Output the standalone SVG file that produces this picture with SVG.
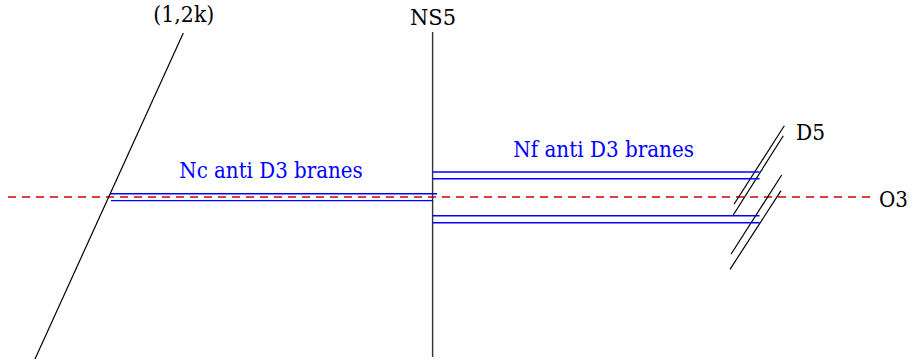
<svg xmlns="http://www.w3.org/2000/svg" width="913" height="360" viewBox="0 0 913 360">
<style>
text{font-family:"DejaVu Serif","Liberation Serif",serif;font-size:22px}
.lbl{fill:#000}
.blbl{fill:#0000ff}
.brane{stroke:#0000ff;stroke-width:1.4;fill:none}
.blk{stroke:#000;stroke-width:1.2;fill:none}
.o3{stroke:#d00000;stroke-width:1.3;stroke-dasharray:8 6;fill:none}
</style>
<rect width="913" height="360" fill="#fff"/>
<g id="o3-plane">
<line class="o3" x1="8" y1="197" x2="870" y2="197"/>
<text class="lbl" x="879" y="206.5" textLength="29" lengthAdjust="spacingAndGlyphs">O3</text>
</g>
<g id="brane-12k">
<line class="blk" x1="183.3" y1="33" x2="35" y2="359"/>
<text class="lbl" x="153.3" y="22" textLength="61" lengthAdjust="spacingAndGlyphs">(1,2k)</text>
</g>
<g id="ns5">
<line x1="432.6" y1="32" x2="432.6" y2="357" stroke="#333" stroke-width="1.4"/>
<text class="lbl" x="410" y="25" textLength="46" lengthAdjust="spacingAndGlyphs">NS5</text>
</g>
<g id="d5-upper">
<line class="blk" x1="784.3" y1="125.7" x2="734" y2="204.3"/>
<line class="blk" x1="783.3" y1="135.7" x2="733.3" y2="215"/>
<text class="lbl" x="796" y="140" textLength="29" lengthAdjust="spacingAndGlyphs">D5</text>
</g>
<g id="d5-lower">
<line class="blk" x1="781.7" y1="175" x2="731" y2="254.3"/>
<line class="blk" x1="781" y1="190.7" x2="730" y2="269.3"/>
</g>
<g id="connectors">
<g id="nc-branes">
<line class="brane" x1="110" y1="193.8" x2="437" y2="193.8"/>
<line class="brane" x1="111" y1="200.6" x2="433" y2="200.6"/>
</g>
<g id="nf-branes">
<line class="brane" x1="432.6" y1="172" x2="759.5" y2="172"/>
<line class="brane" x1="432.6" y1="178.7" x2="759.5" y2="178.7"/>
<line class="brane" x1="432.6" y1="215.7" x2="759.5" y2="215.7"/>
<line class="brane" x1="432.6" y1="222.7" x2="759.5" y2="222.7"/>
</g>
</g>
<g id="labels">
<text class="blbl" x="179.3" y="178.3" textLength="183.4" lengthAdjust="spacingAndGlyphs">Nc anti D3 branes</text>
<text class="blbl" x="513.3" y="157.3" textLength="180.7" lengthAdjust="spacingAndGlyphs">Nf anti D3 branes</text>
</g>
</svg>
